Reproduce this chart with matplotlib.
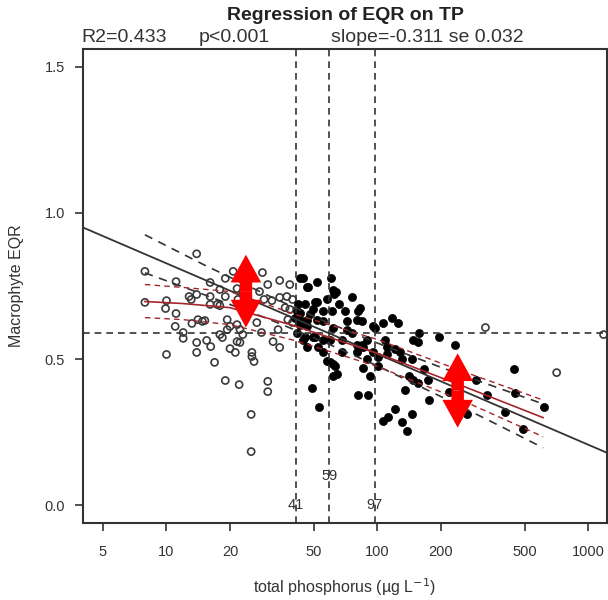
import numpy as np
import matplotlib
matplotlib.use("Agg")
import matplotlib.pyplot as plt
from matplotlib.patches import FancyArrowPatch

plt.rcParams['font.family'] = ['Liberation Sans', 'DejaVu Sans']

# ---------------- data ----------------
# open circles: (TP, EQR)
open_pts = [
    (13.9, 0.86), (7.9, 0.80), (11.1, 0.765), (16.1, 0.762), (19.0, 0.776),
    (20.7, 0.80), (28.5, 0.796), (34.4, 0.769), (38.4, 0.755), (7.9, 0.694),
    (10.0, 0.70), (9.9, 0.673), (11.1, 0.656), (12.8, 0.714), (13.1, 0.704),
    (13.9, 0.721), (16.1, 0.714), (16.1, 0.687), (17.9, 0.738), (17.4, 0.687),
    (19.0, 0.714), (21.6, 0.741), (23.0, 0.731), (27.6, 0.731), (31.6, 0.70),
    (37.2, 0.714), (38.4, 0.67), (37.6, 0.635), (11.0, 0.612), (12.0, 0.591),
    (12.0, 0.571), (13.2, 0.622), (14.1, 0.635), (15.2, 0.632), (13.9, 0.557),
    (15.5, 0.564), (16.2, 0.543), (17.9, 0.584), (18.4, 0.574), (19.4, 0.635),
    (20.0, 0.612), (21.6, 0.618), (23.0, 0.584), (21.6, 0.56), (20.0, 0.536),
    (21.2, 0.523), (22.3, 0.557), (26.8, 0.625), (28.2, 0.591), (32.0, 0.56),
    (34.4, 0.54), (33.8, 0.601), (10.0, 0.516), (13.9, 0.523), (16.9, 0.489),
    (25.4, 0.523), (25.4, 0.509), (26.0, 0.492), (19.0, 0.427), (22.1, 0.413),
    (30.2, 0.424), (30.2, 0.389), (25.2, 0.311), (25.2, 0.184), (39.6, 0.704),
    (39.6, 0.625), (30.2, 0.755), (21.8, 0.704), (29.0, 0.704), (34.4, 0.711),
    (36.5, 0.676), (14.8, 0.629), (19.4, 0.601), (22.3, 0.601), (17.9, 0.683),
    (325, 0.608), (707, 0.454), (1180, 0.584),
]
# filled circles: (TP, EQR)
filled_pts = [
    (44.3, 0.776), (51.8, 0.762), (60.1, 0.776), (46.4, 0.745), (61.4, 0.738),
    (63.4, 0.731), (62.1, 0.721), (75.7, 0.711), (82.6, 0.676), (81.0, 0.663),
    (51.8, 0.697), (57.6, 0.704), (49.5, 0.67), (55.1, 0.663), (60.8, 0.663),
    (42.9, 0.659), (40.5, 0.642), (46.4, 0.635), (51.8, 0.635), (55.1, 0.629),
    (80.1, 0.635), (84.5, 0.629), (71.6, 0.629), (61.4, 0.608), (71.6, 0.601),
    (75.7, 0.591), (97.4, 0.608), (106.4, 0.625), (117.6, 0.642), (125.4, 0.625),
    (41.5, 0.591), (45.4, 0.577), (49.5, 0.577), (55.1, 0.567), (59.5, 0.567),
    (67.7, 0.567), (80.1, 0.55), (84.5, 0.55), (85.4, 0.54), (46.4, 0.543),
    (52.3, 0.54), (55.1, 0.526), (67.7, 0.523), (80.1, 0.523), (95.2, 0.523),
    (100.6, 0.509), (111.2, 0.54), (128.2, 0.526), (156.7, 0.591), (148.2, 0.567),
    (155.0, 0.557), (196.5, 0.574), (232.9, 0.55), (57.6, 0.492), (61.4, 0.482),
    (62.7, 0.475), (61.4, 0.441), (85.4, 0.471), (92.2, 0.441), (100.6, 0.475),
    (141.7, 0.444), (148.2, 0.43), (155.0, 0.42), (165.9, 0.465), (173.4, 0.43),
    (135.6, 0.396), (175.3, 0.362), (217.3, 0.389), (49.0, 0.403), (52.8, 0.335),
    (81.0, 0.379), (90.4, 0.379), (121.5, 0.328), (106.4, 0.287), (112.4, 0.301),
    (131.1, 0.284), (146.6, 0.311), (138.6, 0.253), (293, 0.43), (267, 0.311),
    (329, 0.379), (443, 0.465), (448, 0.386), (404, 0.321), (492, 0.26),
    (618, 0.335), (50.8, 0.697), (42.9, 0.635), (46.4, 0.612), (50.8, 0.577),
    (41.5, 0.663), (42.9, 0.618), (44.3, 0.567), (42.0, 0.687), (45.4, 0.687),
    (47.9, 0.653), (66.0, 0.687), (70.0, 0.663), (146.6, 0.499), (121.5, 0.533),
    (108.0, 0.567), (89.0, 0.567), (59.5, 0.489), (64.0, 0.448), (111.0, 0.516),
    (131.0, 0.499), (89.0, 0.499), (42.9, 0.779), (46.9, 0.748), (95.0, 0.612),
]

# overall regression line (ends at the plot edges)
fit_tp = [4.02, 1225]
fit_eqr = [0.95, 0.18]
# confidence band of the regression (black dashed)
ci_tp = [7.9, 15, 30, 56, 100, 200, 400, 610]
ci_hi = [0.925, 0.823, 0.719, 0.630, 0.555, 0.472, 0.394, 0.347]
ci_lo = [0.795, 0.721, 0.639, 0.558, 0.477, 0.372, 0.264, 0.197]
# second (red) fit and its band
red_tp = [7.9, 12, 20, 40, 100, 250, 610]
red_fit = [0.697, 0.69, 0.676, 0.615, 0.52, 0.41, 0.30]
red_hi = [0.755, 0.745, 0.731, 0.655, 0.567, 0.46, 0.36]
red_lo = [0.642, 0.635, 0.618, 0.565, 0.475, 0.36, 0.235]

# thresholds
thr_tp = [41, 59, 97]
thr_label_y = [0.0, 0.1, 0.0]
h_eqr = 0.59

xticks = [5, 10, 20, 50, 100, 200, 500, 1000]
xticklabels = ['5', '10', '20', '50', '100', '200', '500', '1000']
yticks = [0.0, 0.5, 1.0, 1.5]
yticklabels = ['0.0', '0.5', '1.0', '1.5']

title = 'Regression of EQR on TP'
stats = ['R2=0.433', 'p<0.001', 'slope=-0.311 se 0.032']

# ---------------- figure ----------------
W, H = 608, 600
fig = plt.figure(figsize=(W / 100, H / 100), dpi=100)
ax = fig.add_axes([83 / W, 1 - 523 / H, (607 - 83) / W, (523 - 49) / H])
ax.set_xscale('log')
ax.set_xlim(4.02, 1225)
ax.set_ylim(-0.06, 1.56)

dark = '#333333'
red = '#a5262a'

op = np.array(open_pts)
fp = np.array(filled_pts)
ax.scatter(op[:, 0], op[:, 1], s=26, facecolors='none', edgecolors='#3a3a3a',
           linewidths=1.2, zorder=2)
ax.scatter(fp[:, 0], fp[:, 1], s=34, c='black', edgecolors='black',
           linewidths=0.5, zorder=2)

dash = (0, (4, 3))
for t in thr_tp:
    ax.axvline(t, color=dark, lw=1.2, linestyle=dash, zorder=3)
ax.axhline(h_eqr, color=dark, lw=1.2, linestyle=dash, zorder=3)
for t, ly in zip(thr_tp, thr_label_y):
    ax.text(t, ly, str(t), ha='center', va='center', fontsize=10.5,
            color=dark, zorder=4)

ax.plot(fit_tp, fit_eqr, color=dark, lw=1.3, zorder=4)
ax.plot(ci_tp, ci_hi, color=dark, lw=1.2, linestyle=(0, (5, 4)), zorder=4)
ax.plot(ci_tp, ci_lo, color=dark, lw=1.2, linestyle=(0, (5, 4)), zorder=4)
ax.plot(red_tp, red_fit, color=red, lw=1.2, zorder=4)
ax.plot(red_tp, red_hi, color=red, lw=1.0, linestyle=(0, (4, 3)), zorder=4)
ax.plot(red_tp, red_lo, color=red, lw=1.0, linestyle=(0, (4, 3)), zorder=4)

# red double arrows (annotations)
arrows = [(23.8, 0.857, 0.608), (240, 0.52, 0.266)]
for xa, ytop, ybot in arrows:
    ymid = (ytop + ybot) / 2
    for yend in (ytop, ybot):
        p = FancyArrowPatch((xa, ymid), (xa, yend),
                            arrowstyle='simple,head_length=1.0,head_width=1.1,tail_width=0.45',
                            mutation_scale=20, color='#ff0000', lw=0,
                            shrinkA=0, shrinkB=0, zorder=6)
        ax.add_patch(p)

ax.set_xticks(xticks)
ax.set_xticklabels(xticklabels)
ax.xaxis.set_minor_locator(matplotlib.ticker.NullLocator())
ax.set_yticks(yticks)
ax.set_yticklabels(yticklabels)
ax.tick_params(axis='both', direction='out', length=6, width=1.2, color=dark,
               labelcolor=dark, labelsize=10.5)
ax.tick_params(axis='x', pad=10)
ax.tick_params(axis='y', pad=7)
for s in ax.spines.values():
    s.set_color(dark)
    s.set_linewidth(1.5)

ax.set_xlabel('total phosphorus (µg L$^{-1}$)', fontsize=11.5, color=dark,
              labelpad=12)
ax.set_ylabel('Macrophyte EQR', fontsize=11.5, color=dark, labelpad=15)

fig.text(345 / W, 1 - 16 / H, title, ha='center', va='center', fontsize=14,
         fontweight='bold', color='#222222')
fig.text(81 / W, 1 - 37 / H, stats[0], ha='left', va='center', fontsize=14, color=dark)
fig.text(199 / W, 1 - 37 / H, stats[1], ha='left', va='center', fontsize=14, color=dark)
fig.text(331 / W, 1 - 37 / H, stats[2], ha='left', va='center', fontsize=14, color=dark)

fig.savefig('out.png', dpi=100)
